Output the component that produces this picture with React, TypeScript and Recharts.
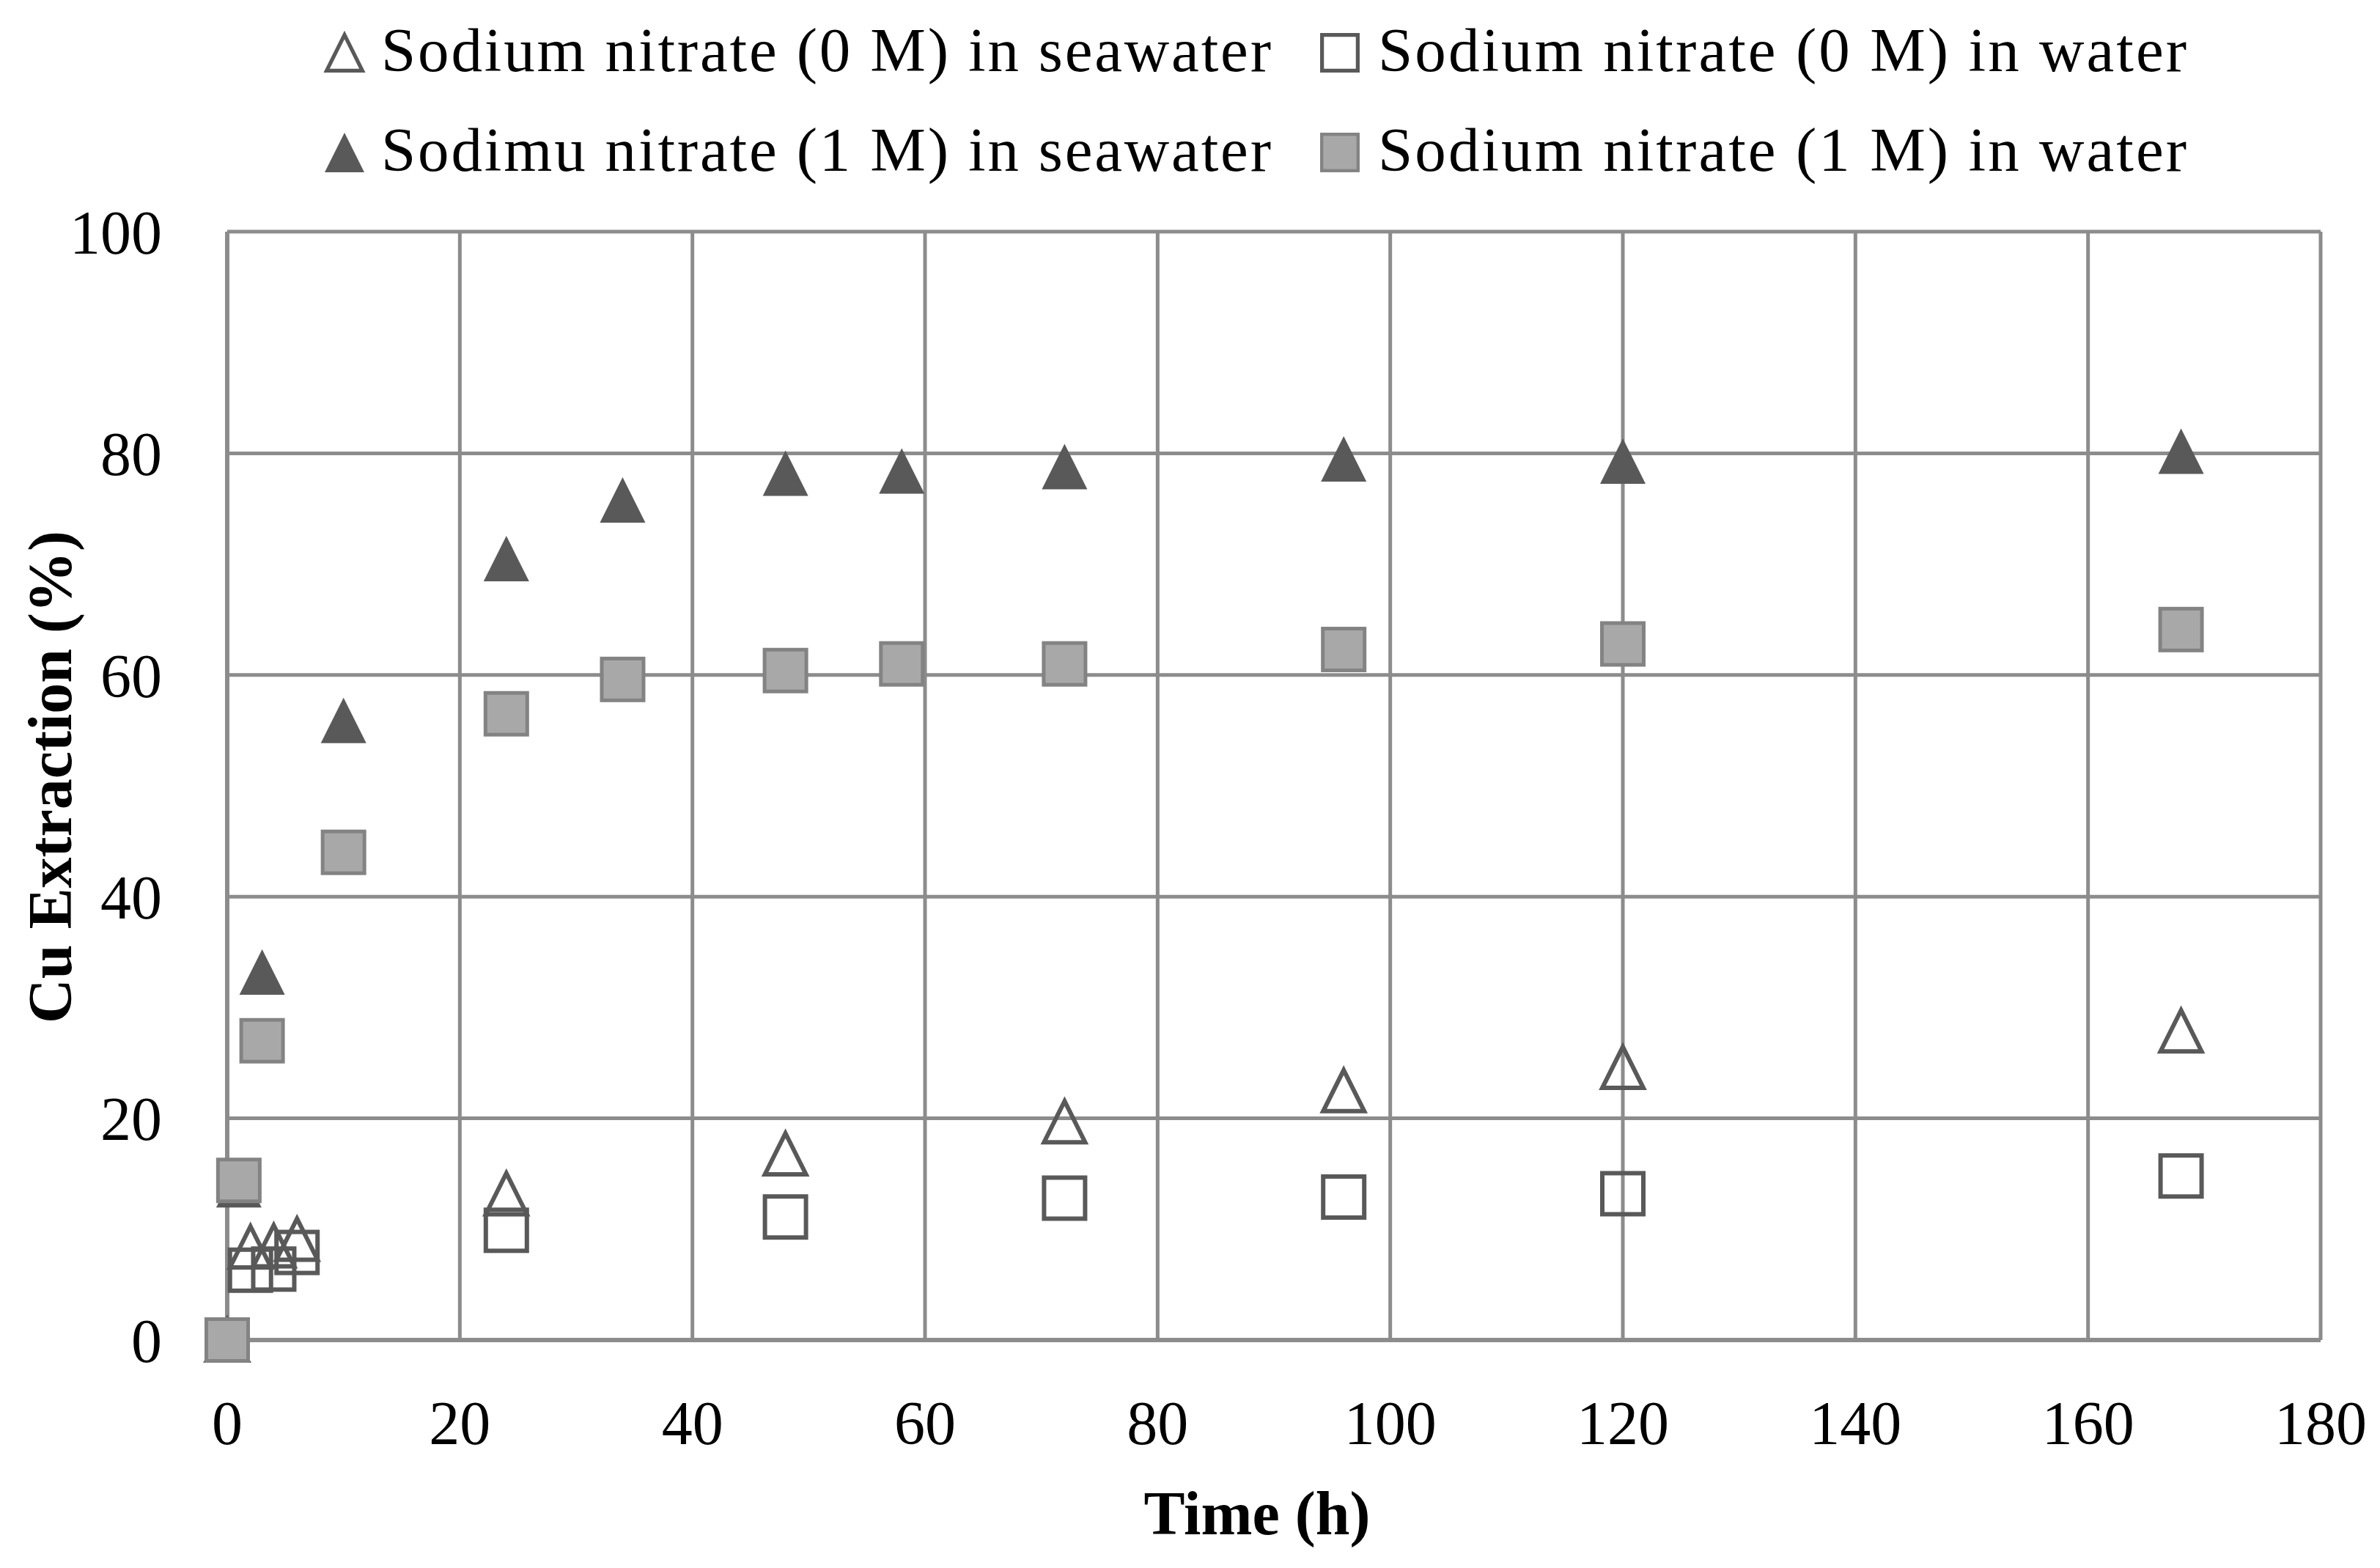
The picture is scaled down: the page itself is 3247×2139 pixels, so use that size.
import React from 'react';
import { ScatterChart, Scatter, XAxis, YAxis, CartesianGrid, Label } from 'recharts';

// ---- data ----
const time0M = [0, 2, 4, 6, 24, 48, 72, 96, 120, 168];
const seawater0M = [0, 8.4, 8.5, 9.1, 13.2, 16.8, 19.7, 22.5, 24.6, 27.9];
const water0M = [0, 6.3, 6.4, 7.9, 9.9, 11.1, 12.8, 12.9, 13.2, 14.8];

const time1M = [0, 1, 3, 10, 24, 34, 48, 58, 72, 96, 120, 168];
const seawater1M = [0, 14.0, 33.2, 55.9, 70.5, 75.8, 78.2, 78.4, 78.8, 79.5, 79.3, 80.2];
const water1M = [0, 14.4, 27.0, 44.0, 56.5, 59.6, 60.4, 61.0, 61.0, 62.3, 62.8, 64.1];

const xTicks = [0, 20, 40, 60, 80, 100, 120, 140, 160, 180];
const yTicks = [0, 20, 40, 60, 80, 100];

const seriesNames = [
  'Sodium nitrate (0 M) in seawater',
  'Sodium nitrate (0 M) in water',
  'Sodimu nitrate (1 M) in seawater',
  'Sodium nitrate (1 M) in water',
];

const xTitle = 'Time (h)';
const yTitle = 'Cu Extraction (%)';

const toPoints = (xs: number[], ys: number[]) => xs.map((x, i) => ({ x, y: ys[i] }));

// ---- styles ----
const FONT = '"Liberation Serif", "Times New Roman", serif';
const GRID = '#8c8c8c';
const DARK = '#595959';
const GRAY_FILL = '#a8a8a8';
const GRAY_STROKE = '#838383';

type Kind = 'openTri' | 'openSq' | 'darkTri' | 'graySq';

const Marker = ({ kind, cx, cy, s = 1 }: { kind: Kind; cx: number; cy: number; s?: number }) => {
  if (kind === 'openTri') {
    const h = 28 * s;
    return (
      <path
        d={`M${cx},${cy - h} L${cx + h},${cy + h} L${cx - h},${cy + h} Z`}
        fill="none"
        stroke={DARK}
        strokeWidth={6 * s}
        strokeLinejoin="miter"
      />
    );
  }
  if (kind === 'darkTri') {
    const h = 31 * s;
    return <path d={`M${cx},${cy - h} L${cx + h},${cy + h} L${cx - h},${cy + h} Z`} fill={DARK} />;
  }
  if (kind === 'openSq') {
    const h = 28 * s;
    return <rect x={cx - h} y={cy - h} width={2 * h} height={2 * h} fill="none" stroke={DARK} strokeWidth={6 * s} />;
  }
  const h = 28.5 * s;
  return <rect x={cx - h} y={cy - h} width={2 * h} height={2 * h} fill={GRAY_FILL} stroke={GRAY_STROKE} strokeWidth={5 * s} />;
};

const shapeOf = (kind: Kind) => (props: any) => <Marker kind={kind} cx={props.cx} cy={props.cy} />;

const XTitle = (props: any) => {
  const vb = props.viewBox || {};
  return (
    <text x={vb.x + vb.width / 2 - 23} y={vb.y + 265} textAnchor="middle" fontFamily={FONT} fontWeight="bold" fontSize={84} fill="#000">
      {xTitle}
    </text>
  );
};

const YTitle = (props: any) => {
  const vb = props.viewBox || {};
  const x = 97;
  const y = vb.y + vb.height / 2 - 12;
  return (
    <text x={x} y={y} transform={`rotate(-90, ${x}, ${y})`} textAnchor="middle" fontFamily={FONT} fontWeight="bold" fontSize={84} fill="#000">
      {yTitle}
    </text>
  );
};

const legendKinds: Kind[] = ['openTri', 'openSq', 'darkTri', 'graySq'];

const LegendOverlay = () => {
  const cols = [
    { mx: 470, tx: 520, tw: 1214 },
    { mx: 1828, tx: 1880, tw: 1103 },
  ];
  const rows = [
    { my: 72, ty: 97 },
    { my: 208, ty: 233 },
  ];
  return (
    <svg width={3247} height={300} style={{ position: 'absolute', left: 0, top: 0, pointerEvents: 'none' }}>
      {seriesNames.map((name, i) => {
        const c = cols[i % 2];
        const r = rows[Math.floor(i / 2)];
        return (
          <g key={name}>
            <Marker kind={legendKinds[i]} cx={c.mx} cy={r.my} s={0.87} />
            <text x={c.tx} y={r.ty} fontFamily={FONT} fontSize={85} fill="#000" textLength={c.tw} lengthAdjust="spacing">
              {name}
            </text>
          </g>
        );
      })}
    </svg>
  );
};

export default function App() {
  return (
    <div style={{ position: 'absolute', left: 0, top: 0, width: 3247, height: 2139, background: '#fff' }}>
      <ScatterChart width={3247} height={2139} margin={{ top: 316, right: 81, bottom: 31, left: 0 }}>
        <CartesianGrid stroke={GRID} strokeWidth={5} />
        <XAxis
          type="number"
          dataKey="x"
          domain={[0, 180]}
          ticks={xTicks}
          interval={0}
          height={280}
          axisLine={{ stroke: GRID, strokeWidth: 6 }}
          tickLine={false}
          tickSize={0}
          tickMargin={82}
          tick={{ fontFamily: FONT, fontSize: 84, fill: '#000' }}
        >
          <Label content={<XTitle />} />
        </XAxis>
        <YAxis
          type="number"
          dataKey="y"
          domain={[0, 100]}
          ticks={yTicks}
          interval={0}
          width={310}
          axisLine={{ stroke: GRID, strokeWidth: 6 }}
          tickLine={false}
          tickSize={0}
          tickMargin={89}
          tick={{ fontFamily: FONT, fontSize: 84, fill: '#000' }}
        >
          <Label content={<YTitle />} />
        </YAxis>
        <Scatter name={seriesNames[0]} data={toPoints(time0M, seawater0M)} shape={shapeOf('openTri')} isAnimationActive={false} />
        <Scatter name={seriesNames[1]} data={toPoints(time0M, water0M)} shape={shapeOf('openSq')} isAnimationActive={false} />
        <Scatter name={seriesNames[2]} data={toPoints(time1M, seawater1M)} shape={shapeOf('darkTri')} isAnimationActive={false} />
        <Scatter name={seriesNames[3]} data={toPoints(time1M, water1M)} shape={shapeOf('graySq')} isAnimationActive={false} />
      </ScatterChart>
      <LegendOverlay />
    </div>
  );
}
